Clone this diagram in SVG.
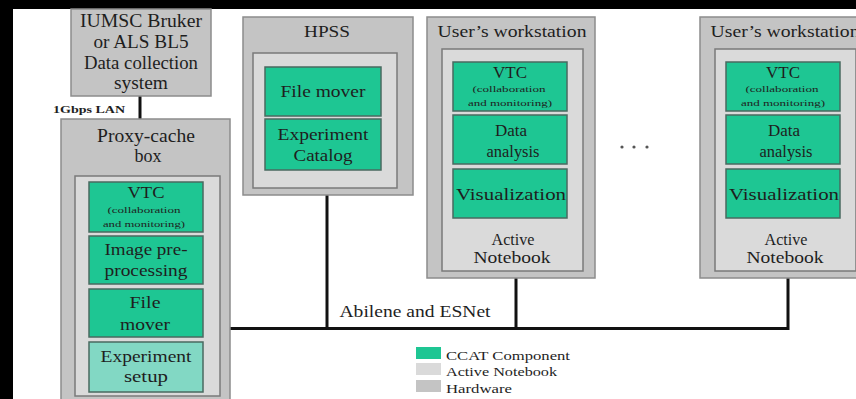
<svg xmlns="http://www.w3.org/2000/svg" width="856" height="399" viewBox="0 0 856 399">
<style>
.hw{fill:#c4c4c4;stroke:#8c8c8c;stroke-width:1.5}
.an{fill:#dadada;stroke:#7a7a7a;stroke-width:1.5}
.cc{fill:#1ec693;stroke:#4a6a60;stroke-width:1.5}
.cs{fill:#82d8c4;stroke:#4a6a60;stroke-width:1.5}
text{font-family:"Times New Roman","Liberation Serif",serif;fill:#1e1e1e;text-anchor:middle}
.t{font-size:18px}
.m{font-size:17px}
.s{font-size:8px}
.l{font-size:12px;text-anchor:start}
.ln{stroke:#111;stroke-width:3;fill:none}
</style>
<rect x="0" y="0" width="856" height="399" fill="#ffffff"/>
<rect x="0" y="0" width="856" height="9" fill="#000"/>
<rect x="0" y="0" width="13" height="399" fill="#000"/>

<g id="connectors">
<line class="ln" x1="140" y1="96" x2="140" y2="120"/>
<polyline class="ln" points="230,328.5 788,328.5 788,278"/>
<line class="ln" x1="327" y1="195" x2="327" y2="328"/>
<line class="ln" x1="516" y1="278" x2="516" y2="328"/>
<text x="89" y="113" style="font-size:11px;font-weight:bold" textLength="72" lengthAdjust="spacingAndGlyphs">1Gbps LAN</text>
<text x="415" y="317" class="m" textLength="151" lengthAdjust="spacingAndGlyphs">Abilene and ESNet</text>
</g>

<g id="iumsc">
<rect class="hw" x="71" y="9" width="140" height="87"/>
<text class="t" x="141" y="27" textLength="122" lengthAdjust="spacingAndGlyphs">IUMSC Bruker</text>
<text class="t" x="141" y="48" textLength="95" lengthAdjust="spacingAndGlyphs">or ALS BL5</text>
<text class="t" x="141" y="69" textLength="114" lengthAdjust="spacingAndGlyphs">Data collection</text>
<text class="t" x="141" y="89" textLength="54" lengthAdjust="spacingAndGlyphs">system</text>
</g>

<g id="proxy">
<rect class="hw" x="61" y="119" width="169" height="290"/>
<text class="t" x="146" y="142" textLength="98" lengthAdjust="spacingAndGlyphs">Proxy-cache</text>
<text class="t" x="148" y="162" textLength="27" lengthAdjust="spacingAndGlyphs">box</text>
<rect class="an" x="75" y="176" width="145" height="220"/>
<g id="proxy-vtc">
<rect class="cc" x="89" y="182" width="114" height="50"/>
<text class="m" x="146" y="198" textLength="37" lengthAdjust="spacingAndGlyphs">VTC</text>
<text class="s" x="144" y="213" textLength="73" lengthAdjust="spacingAndGlyphs">(collaboration</text>
<text class="s" x="144" y="227" textLength="82" lengthAdjust="spacingAndGlyphs">and monitoring)</text>
</g>
<g id="proxy-image">
<rect class="cc" x="89" y="236" width="114" height="48"/>
<text class="m" x="146" y="255" textLength="83" lengthAdjust="spacingAndGlyphs">Image pre-</text>
<text class="m" x="146" y="276" textLength="83" lengthAdjust="spacingAndGlyphs">processing</text>
</g>
<g id="proxy-filemover">
<rect class="cc" x="89" y="289" width="114" height="48"/>
<text class="m" x="145" y="308" textLength="31" lengthAdjust="spacingAndGlyphs">File</text>
<text class="m" x="145" y="330" textLength="50" lengthAdjust="spacingAndGlyphs">mover</text>
</g>
<g id="proxy-setup">
<rect class="cs" x="89" y="342" width="114" height="50"/>
<text class="m" x="146" y="362" textLength="91" lengthAdjust="spacingAndGlyphs">Experiment</text>
<text class="m" x="146" y="382" textLength="44" lengthAdjust="spacingAndGlyphs">setup</text>
</g>
</g>

<g id="hpss">
<rect class="hw" x="243" y="17" width="170" height="178"/>
<text class="m" x="327" y="37" textLength="46" lengthAdjust="spacingAndGlyphs">HPSS</text>
<rect class="an" x="253" y="53" width="144" height="135"/>
<g id="hpss-filemover">
<rect class="cc" x="265" y="67" width="116" height="49"/>
<text class="m" x="323" y="97" textLength="85" lengthAdjust="spacingAndGlyphs">File mover</text>
</g>
<g id="hpss-catalog">
<rect class="cc" x="265" y="119" width="116" height="51"/>
<text class="m" x="323" y="140" textLength="91" lengthAdjust="spacingAndGlyphs">Experiment</text>
<text class="m" x="323" y="161" textLength="59" lengthAdjust="spacingAndGlyphs">Catalog</text>
</g>
</g>

<g id="workstation1">
<rect class="hw" x="427" y="17" width="168" height="261"/>
<text class="m" x="512" y="37" textLength="149" lengthAdjust="spacingAndGlyphs">User’s workstation</text>
<rect class="an" x="442" y="49" width="141" height="222"/>
<g id="ws1-vtc">
<rect class="cc" x="453" y="62" width="114" height="49"/>
<text class="m" x="510" y="78" textLength="34" lengthAdjust="spacingAndGlyphs">VTC</text>
<text class="s" x="509" y="92" textLength="73" lengthAdjust="spacingAndGlyphs">(collaboration</text>
<text class="s" x="510" y="106" textLength="84" lengthAdjust="spacingAndGlyphs">and monitoring)</text>
</g>
<g id="ws1-data">
<rect class="cc" x="453" y="115" width="114" height="49"/>
<text class="m" x="511" y="136" textLength="32" lengthAdjust="spacingAndGlyphs">Data</text>
<text class="m" x="513" y="157" textLength="53" lengthAdjust="spacingAndGlyphs">analysis</text>
</g>
<g id="ws1-vis">
<rect class="cc" x="453" y="169" width="114" height="49"/>
<text class="m" x="511" y="200" textLength="110" lengthAdjust="spacingAndGlyphs">Visualization</text>
</g>
<text class="m" x="513" y="245" textLength="43" lengthAdjust="spacingAndGlyphs">Active</text>
<text class="m" x="512" y="263" textLength="77" lengthAdjust="spacingAndGlyphs">Notebook</text>
</g>

<g id="ellipsis">
<circle cx="622" cy="147" r="1.6" fill="#555"/>
<circle cx="634" cy="147" r="1.6" fill="#555"/>
<circle cx="647" cy="147" r="1.6" fill="#555"/>
</g>

<g id="workstation2">
<rect class="hw" x="700" y="17" width="168" height="261"/>
<text class="m" x="785" y="37" textLength="149" lengthAdjust="spacingAndGlyphs">User’s workstation</text>
<rect class="an" x="715" y="49" width="141" height="222"/>
<g id="ws2-vtc">
<rect class="cc" x="726" y="62" width="114" height="49"/>
<text class="m" x="783" y="78" textLength="34" lengthAdjust="spacingAndGlyphs">VTC</text>
<text class="s" x="782" y="92" textLength="73" lengthAdjust="spacingAndGlyphs">(collaboration</text>
<text class="s" x="783" y="106" textLength="84" lengthAdjust="spacingAndGlyphs">and monitoring)</text>
</g>
<g id="ws2-data">
<rect class="cc" x="726" y="115" width="114" height="49"/>
<text class="m" x="784" y="136" textLength="32" lengthAdjust="spacingAndGlyphs">Data</text>
<text class="m" x="786" y="157" textLength="53" lengthAdjust="spacingAndGlyphs">analysis</text>
</g>
<g id="ws2-vis">
<rect class="cc" x="726" y="169" width="114" height="49"/>
<text class="m" x="784" y="200" textLength="110" lengthAdjust="spacingAndGlyphs">Visualization</text>
</g>
<text class="m" x="786" y="245" textLength="43" lengthAdjust="spacingAndGlyphs">Active</text>
<text class="m" x="785" y="263" textLength="77" lengthAdjust="spacingAndGlyphs">Notebook</text>
</g>

<g id="legend">
<rect x="416" y="347" width="25" height="12" fill="#1ec693"/>
<rect x="416" y="363" width="25" height="12" fill="#dadada"/>
<rect x="416" y="380" width="25" height="12" fill="#c4c4c4"/>
<text class="l" x="446" y="360" textLength="124" lengthAdjust="spacingAndGlyphs">CCAT Component</text>
<text class="l" x="446" y="376" textLength="111" lengthAdjust="spacingAndGlyphs">Active Notebook</text>
<text class="l" x="446" y="393" textLength="66" lengthAdjust="spacingAndGlyphs">Hardware</text>
</g>
</svg>
